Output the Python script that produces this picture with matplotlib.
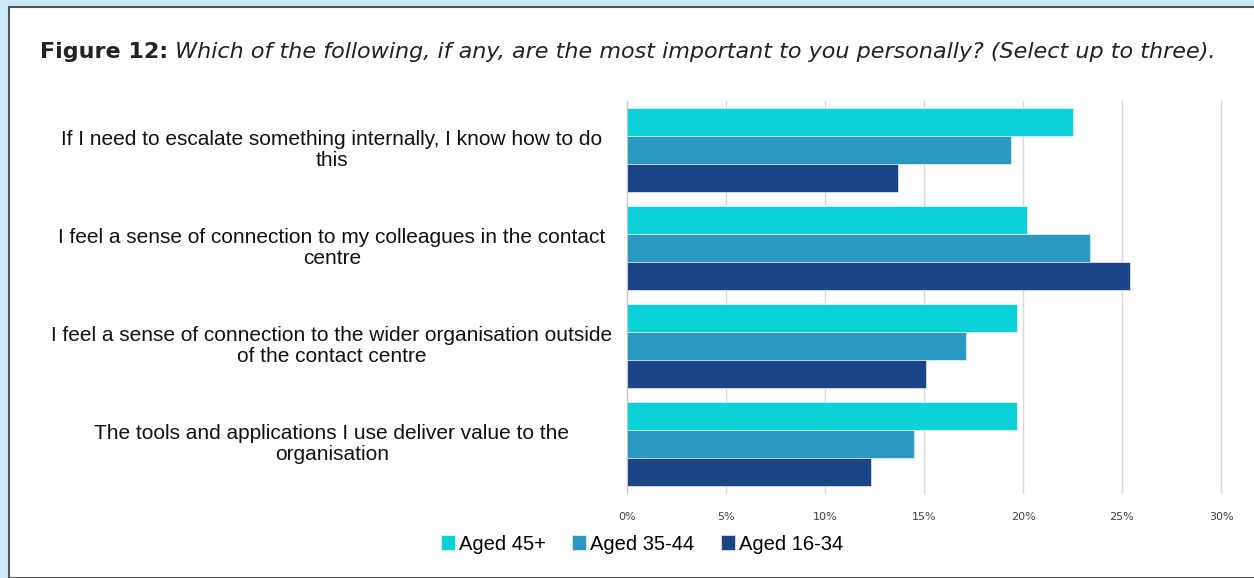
import numpy as np
import matplotlib.pyplot as plt
from matplotlib.patches import Rectangle

# Datos de la figura
categorias = [
    "If I need to escalate something internally, I know how to do\nthis",
    "I feel a sense of connection to my colleagues in the contact\ncentre",
    "I feel a sense of connection to the wider organisation outside\nof the contact centre",
    "The tools and applications I use deliver value to the\norganisation",
]
series = ["Aged 45+", "Aged 35-44", "Aged 16-34"]
aged_45 = [22.5, 20.2, 19.7, 19.7]
aged_35_44 = [19.4, 23.4, 17.1, 14.5]
aged_16_34 = [13.7, 25.4, 15.1, 12.3]
ticks = [0, 5, 10, 15, 20, 25, 30]

colores = ["#0cd1d9", "#2b98c2", "#1b4586"]

fig = plt.figure(figsize=(12.54, 5.78), dpi=100)
fig.patch.set_facecolor("#cde9f8")

# panel blanco con borde
panel = Rectangle((9 / 1254, 0), 1.0, 1 - 7 / 578, transform=fig.transFigure,
                  facecolor="white", edgecolor="#555555", linewidth=1.5, zorder=-5)
fig.patches.append(panel)

ax = fig.add_axes([627 / 1254, 1 - 493 / 578, (1221 - 627) / 1254, (493 - 101) / 578])
ax.set_facecolor("white")

y = np.arange(len(categorias))
h = 0.285
for i, (vals, nombre) in enumerate(zip([aged_45, aged_35_44, aged_16_34], series)):
    ax.barh(y + (i - 1) * h, vals, height=h, color=colores[i], label=nombre,
            edgecolor="white", linewidth=0.4, zorder=2)

ax.set_xlim(0, 30)
ax.set_ylim(len(categorias) - 0.5, -0.5)
ax.set_xticks(ticks)
ax.set_xticklabels([f"{t}%" for t in ticks], fontsize=8, color="#404040",
                   family="DejaVu Sans")
ax.tick_params(axis="x", length=0, pad=14)
ax.set_yticks(y)
ax.set_yticklabels([])
ax.tick_params(axis="y", length=0)
ax.grid(axis="x", color="#d9d9d9", linewidth=1, zorder=0)
for gl in ax.get_xgridlines():
    gl.set_clip_on(False)
for s in ["top", "right", "bottom"]:
    ax.spines[s].set_visible(False)
ax.spines["left"].set_color("#c8c8c8")

# etiquetas de categorias centradas (offset en puntos: 295 px a 100 dpi)
for yi, cat in zip(y, categorias):
    ax.annotate(cat, xy=(0, yi), xycoords=("axes fraction", "data"),
                xytext=(-295 * 0.72, 0), textcoords="offset points", ha="center", va="center",
                fontsize=15, family="Liberation Sans", color="#111111",
                linespacing=1.15)

# titulo: parte en negrita y parte en cursiva
t1 = fig.text(40 / 1254, 1 - 52 / 578, "Figure 12:", fontsize=16, fontweight="bold",
              family="DejaVu Sans", color="#222222", va="center")
ax.annotate(" Which of the following, if any, are the most important to you personally? (Select up to three).",
            xy=(1, 0.5), xycoords=t1, va="center", ha="left", fontsize=16,
            style="italic", family="DejaVu Sans", color="#222222",
            annotation_clip=False)

leg = fig.legend(loc="center", bbox_to_anchor=(642 / 1254, 1 - 544 / 578), ncol=3,
                 frameon=False, handlelength=0.7, handleheight=0.7,
                 handletextpad=0.2, columnspacing=1.3,
                 prop={"family": "Liberation Sans", "size": 14.5})

fig.savefig("out.png", dpi=100, facecolor=fig.get_facecolor())
